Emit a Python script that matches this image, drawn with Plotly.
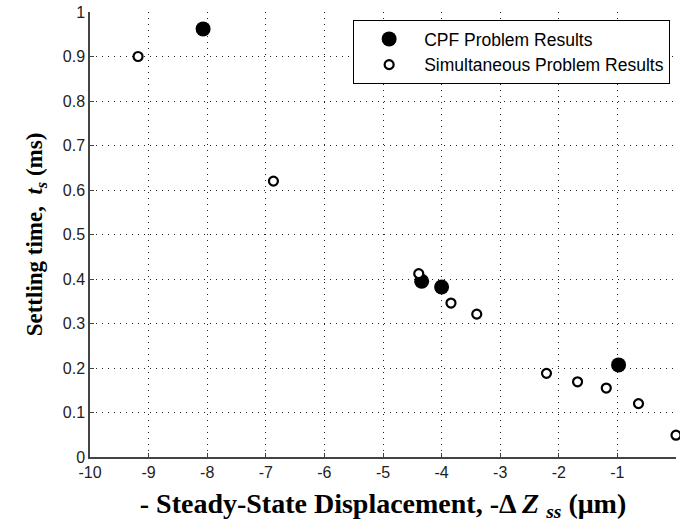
import plotly.graph_objects as go

cpf_x = [-8.07, -4.34, -4.0, -0.98]
cpf_y = [0.962, 0.395, 0.382, 0.207]

sim_x = [-9.18, -6.87, -4.39, -3.84, -3.40, -2.21, -1.68, -1.19, -0.64, 0.0]
sim_y = [0.90, 0.62, 0.412, 0.346, 0.321, 0.188, 0.169, 0.155, 0.12, 0.049]

x_ticks = [-10, -9, -8, -7, -6, -5, -4, -3, -2, -1, 0]
y_ticks = [0, 0.1, 0.2, 0.3, 0.4, 0.5, 0.6, 0.7, 0.8, 0.9, 1]

fig = go.Figure()
fig.add_trace(go.Scatter(
    x=cpf_x, y=cpf_y, mode="markers", name="CPF Problem Results",
    legendgroup="a",
    marker=dict(size=15, color="black", line=dict(width=0)),
    cliponaxis=False))
fig.add_trace(go.Scatter(
    x=sim_x, y=sim_y, mode="markers", name="Simultaneous Problem Results",
    legendgroup="b",
    marker=dict(size=9, color="white", line=dict(width=2.2, color="black")),
    cliponaxis=False))

tick_font = dict(family="Liberation Sans, Arial, sans-serif", size=16, color="#222222")
title_font_family = "Liberation Serif, Times New Roman, serif"

axis_common = dict(
    showgrid=True, gridcolor="#222222", griddash="1px,5px", gridwidth=1,
    showline=True, linecolor="#444444", linewidth=1.5,
    ticks="inside", ticklen=4, tickcolor="#444444",
    tickfont=tick_font,
    zeroline=False, mirror=False,
)

fig.update_layout(
    width=680, height=529,
    margin=dict(l=90, r=4, t=10, b=72),
    plot_bgcolor="white", paper_bgcolor="white",
    xaxis=dict(range=[-10, 0], tickvals=x_ticks, ticktext=[str(v) for v in x_ticks],
               title=dict(text="<b>- Steady-State Displacement, -Δ <i>Z</i> <sub><i>ss</i></sub> (μm)</b>",
                          font=dict(family=title_font_family, size=28, color="black"),
                          standoff=13),
               **axis_common),
    yaxis=dict(range=[0, 1], tickvals=y_ticks, ticktext=[f"{v:g}" for v in y_ticks],
               title=dict(text="<b>Settling time,  <i>t</i><sub><i>s</i></sub> (ms)</b>",
                          font=dict(family=title_font_family, size=23, color="black"),
                          standoff=14),
               **axis_common),
    legend=dict(x=0.99, y=0.982, xanchor="right", yanchor="top",
                bgcolor="white", bordercolor="black", borderwidth=1,
                font=dict(family="Liberation Sans, Arial, sans-serif", size=17.5, color="black"),
                tracegroupgap=0, itemwidth=60),
    showlegend=True,
)

fig.write_html("out.html")
